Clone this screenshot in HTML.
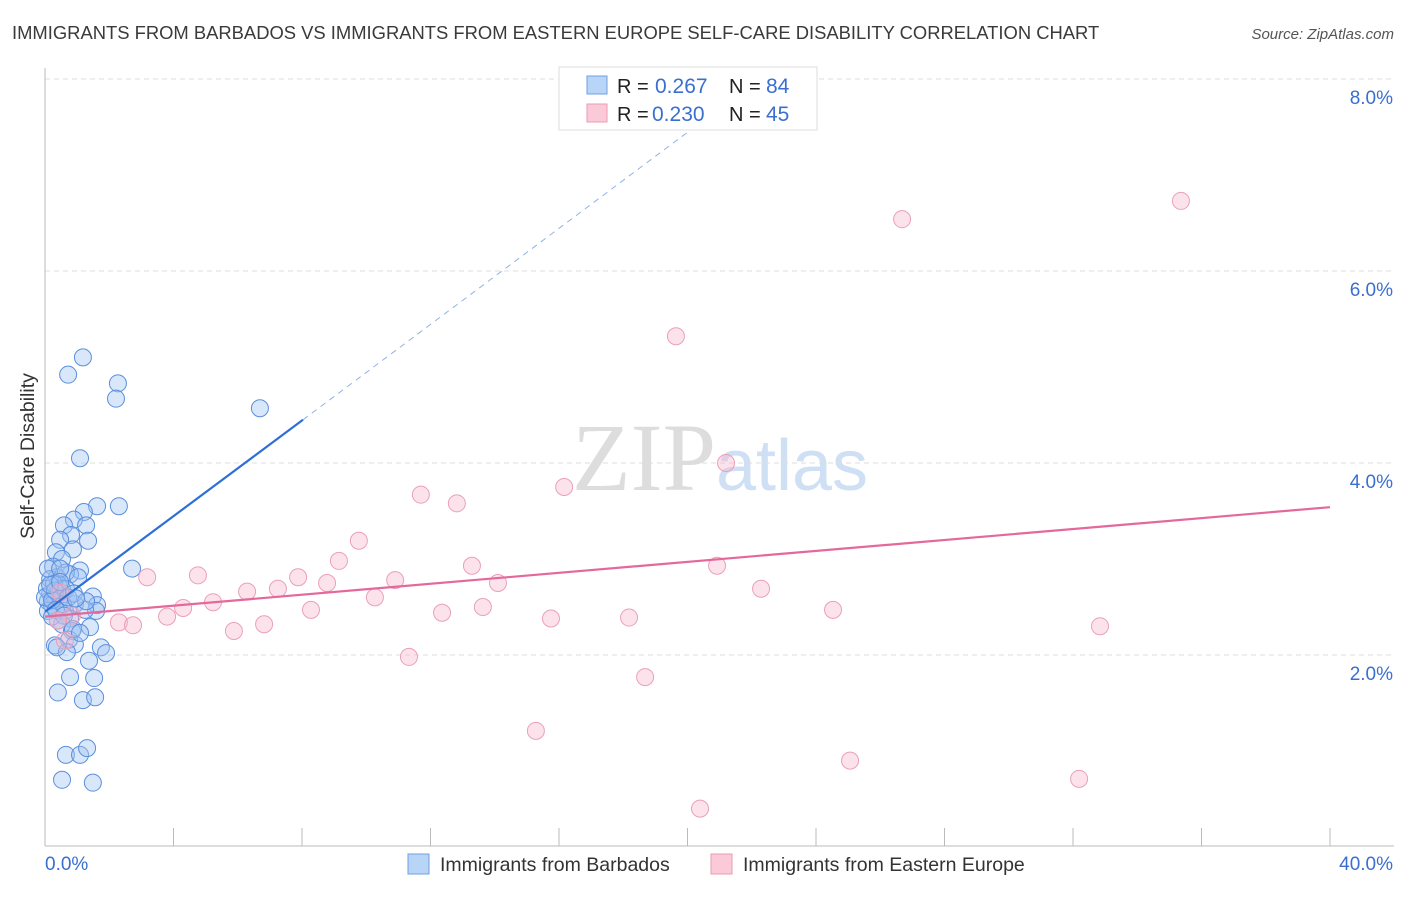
<!DOCTYPE html>
<html><head><meta charset="utf-8">
<style>
body{margin:0;background:#fff;font-family:"Liberation Sans",sans-serif;}
svg text{font-family:"Liberation Sans",sans-serif;}
</style></head>
<body>
<svg id="chart" width="1406" height="892" xmlns="http://www.w3.org/2000/svg">
<text x="12" y="39" font-size="18.4" fill="#3a3a3a">IMMIGRANTS FROM BARBADOS VS IMMIGRANTS FROM EASTERN EUROPE SELF-CARE DISABILITY CORRELATION CHART</text>
<text x="1394" y="39" font-size="15" fill="#555" text-anchor="end" font-style="italic">Source: ZipAtlas.com</text>
<text x="720" y="490" font-size="96" text-anchor="middle"><tspan fill="#ddd" font-family="Liberation Serif">ZIP</tspan><tspan fill="#cfe0f4" font-size="72">atlas</tspan></text>
<g id="grid"></g>
<g id="axes"></g>
<g id="marks"></g>
<text transform="translate(34,456) rotate(-90)" font-size="19.5" fill="#333" text-anchor="middle">Self-Care Disability</text>
<g>
<rect x="559" y="67" width="258" height="63" fill="#fff" stroke="#ddd"/>
<rect x="587" y="76" width="20" height="18" fill="#b8d4f6" stroke="#6f9fe0"/>
<rect x="587" y="104" width="20" height="18" fill="#fbcad8" stroke="#ec9ab3"/>
<text x="617" y="93" font-size="20" fill="#222">R = </text><text x="655" y="93" font-size="21" fill="#3a6fd0">0.267</text>
<text x="729" y="93" font-size="20" fill="#222">N = </text><text x="766" y="93" font-size="21" fill="#3a6fd0">84</text>
<text x="617" y="121" font-size="20" fill="#222">R = </text><text x="652" y="121" font-size="21" fill="#3a6fd0">0.230</text>
<text x="729" y="121" font-size="20" fill="#222">N = </text><text x="766" y="121" font-size="21" fill="#3a6fd0">45</text>
</g>
<g>
<rect x="408" y="854" width="21" height="20" fill="#b8d4f6" stroke="#6f9fe0"/>
<text x="440" y="871" font-size="19.5" fill="#333">Immigrants from Barbados</text>
<rect x="711" y="854" width="21" height="20" fill="#fbcad8" stroke="#ec9ab3"/>
<text x="743" y="871" font-size="19.5" fill="#333">Immigrants from Eastern Europe</text>
</g>
</svg>
<script>
const xTicks=[0,4,8,12,16,20,24,28,32,36,40];
const yTicks=[2,4,6,8];
const yTickLabels=["2.0%","4.0%","6.0%","8.0%"];
const blueX=[1.18,0.72,2.27,2.21,6.69,1.09,1.62,2.30,1.21,0.90,0.59,1.28,0.81,0.47,1.34,0.87,0.34,0.53,0.25,1.09,0.78,0.37,0.65,0.16,0.40,0.53,0.16,0.31,0.09,0.47,0.22,2.71,1.49,1.62,1.59,0.93,1.25,0.62,0.78,0.53,0.84,1.40,0.75,0.93,0.31,0.68,1.74,1.90,1.37,0.78,1.53,0.40,1.18,1.56,0.65,1.09,1.31,0.53,1.49,0.09,0.22,0.40,0.56,0.06,0.00,0.09,0.28,0.47,0.65,1.03,0.22,0.34,0.59,0.87,1.09,0.31,0.16,0.47,0.72,0.90,0.40,1.28,0.37,0.96];
const blueY=[5.10,4.92,4.83,4.67,4.57,4.05,3.55,3.55,3.49,3.41,3.35,3.35,3.25,3.20,3.19,3.10,3.07,3.00,2.92,2.88,2.84,2.81,2.86,2.79,2.74,2.69,2.64,2.61,2.56,2.59,2.52,2.90,2.61,2.52,2.46,2.53,2.47,2.46,2.38,2.32,2.25,2.29,2.16,2.11,2.10,2.03,2.08,2.02,1.94,1.77,1.76,1.61,1.53,1.56,0.96,0.96,1.03,0.70,0.67,2.46,2.40,2.64,2.53,2.69,2.60,2.90,2.74,2.90,2.69,2.81,2.57,2.47,2.41,2.27,2.23,2.67,2.73,2.76,2.60,2.64,2.36,2.56,2.08,2.59];
const pinkX=[35.36,26.68,19.64,21.20,16.16,11.70,12.82,9.77,9.15,13.29,7.88,3.18,4.76,20.92,8.78,10.90,14.10,6.29,7.25,22.29,5.23,4.30,8.28,10.27,13.63,12.36,24.53,3.80,2.30,2.74,5.88,6.82,15.75,18.18,32.84,11.33,18.68,15.28,25.06,32.19,20.39,0.47,0.62,0.84,0.40];
const pinkY=[6.73,6.54,5.32,4.00,3.75,3.67,3.58,3.19,2.98,2.93,2.81,2.81,2.83,2.93,2.75,2.78,2.75,2.66,2.69,2.69,2.55,2.49,2.47,2.60,2.50,2.44,2.47,2.40,2.34,2.31,2.25,2.32,2.38,2.39,2.30,1.98,1.77,1.21,0.90,0.71,0.40,2.65,2.15,2.41,2.36];
const blueLine=[[0,2.45],[8.03,4.45]];
const blueDash=[[8.03,4.45],[20.1,7.47]];
const pinkLine=[[0,2.40],[40,3.54]];
const X=v=>45+v/40*1285, Y=v=>847-v*96;
const NS="http://www.w3.org/2000/svg";
function mk(tag,attrs,parent){const e=document.createElementNS(NS,tag);for(const k in attrs)e.setAttribute(k,attrs[k]);document.getElementById(parent).appendChild(e);return e;}
yTicks.forEach((t,i)=>{
 const g=mk('line',{x1:45,x2:1394,y1:Y(t),y2:Y(t),stroke:'#ddd','stroke-dasharray':'5,4'},'grid');
 
 
 const l=mk('text',{x:1393,y:Y(t)+25,'font-size':19,fill:'#3a6fd0','text-anchor':'end'},'axes');l.textContent=yTickLabels[i];
 
 
});
const ax=mk('line',{x1:45,x2:45,y1:68,y2:846,stroke:'#bbb'},'axes');


const bx=mk('line',{x1:45,x2:1394,y1:846,y2:846,stroke:'#bbb'},'axes');


xTicks.slice(1).forEach(t=>{const l=mk('line',{x1:X(t),x2:X(t),y1:828,y2:846,stroke:'#bbb'},'axes');
 
 });
const x0=mk('text',{x:45,y:870,'font-size':19,fill:'#3a6fd0'},'axes');x0.textContent='0.0%';


const x1=mk('text',{x:1393,y:870,'font-size':19,fill:'#3a6fd0','text-anchor':'end'},'axes');x1.textContent='40.0%';


blueX.forEach((v,i)=>{const c=mk('circle',{cx:X(v),cy:Y(blueY[i]),r:8.5,fill:'rgba(160,195,242,0.4)',stroke:'#5b8fdc','stroke-width':1},'marks');
 
 });
pinkX.forEach((v,i)=>{const c=mk('circle',{cx:X(v),cy:Y(pinkY[i]),r:8.5,fill:'rgba(248,185,205,0.4)',stroke:'#eba0b8','stroke-width':1},'marks');
 
 });
const bl=mk('line',{x1:X(blueLine[0][0]),y1:Y(blueLine[0][1]),x2:X(blueLine[1][0]),y2:Y(blueLine[1][1]),stroke:'#2d6fd6','stroke-width':2.2},'marks');


const bd=mk('line',{x1:X(blueDash[0][0]),y1:Y(blueDash[0][1]),x2:X(blueDash[1][0]),y2:Y(blueDash[1][1]),stroke:'#8fb2e6','stroke-width':1,'stroke-dasharray':'6,5'},'marks');


const pl=mk('line',{x1:X(pinkLine[0][0]),y1:Y(pinkLine[0][1]),x2:X(pinkLine[1][0]),y2:Y(pinkLine[1][1]),stroke:'#e4699a','stroke-width':2.2},'marks');


</script>
</body></html>
